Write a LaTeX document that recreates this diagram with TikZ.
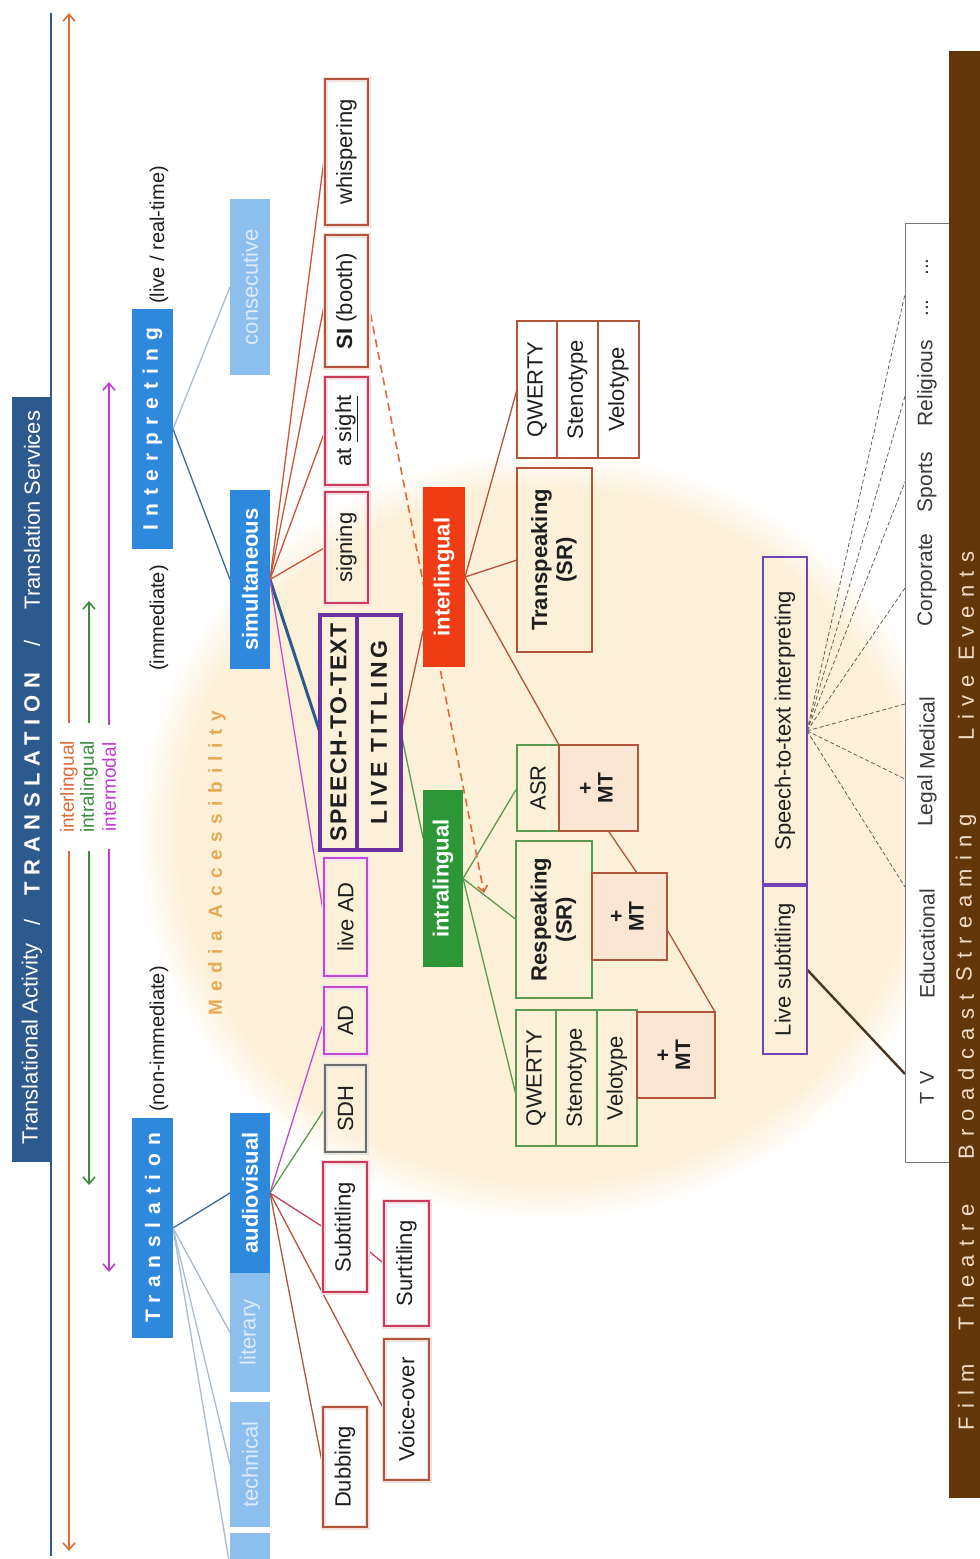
\documentclass[tikz,border=0pt]{standalone}
\usepackage{fontspec}
\setmainfont{Liberation Sans}
\usepackage{graphicx}
\usetikzlibrary{arrows.meta,calc}

% palette
\definecolor{bannerblue}{HTML}{2D5A8C}
\definecolor{midblue}{HTML}{2E88DC}
\definecolor{paleblue}{HTML}{8DBFEE}
\definecolor{palefont}{HTML}{DCEBFA}
\definecolor{linkdark}{HTML}{3F6A96}
\definecolor{linklight}{HTML}{A9BBCC}
\definecolor{arrorange}{HTML}{DD6A3A}
\definecolor{arrgreen}{HTML}{3C8C3C}
\definecolor{arrmagenta}{HTML}{C03CCC}
\definecolor{brownred}{HTML}{B0553C}
\definecolor{crimson}{HTML}{C83C5A}
\definecolor{violet}{HTML}{C04CCC}
\definecolor{sdhgray}{HTML}{6E6E66}
\definecolor{leafgreen}{HTML}{5A9A50}
\definecolor{ttpurple}{HTML}{6A32A0}
\definecolor{boxpurple}{HTML}{7442B4}
\definecolor{redbox}{HTML}{F03C14}
\definecolor{greenbox}{HTML}{2D9637}
\definecolor{mtfill}{HTML}{FBE6D4}
\definecolor{accbg}{HTML}{FDF0D8}
\definecolor{acctext}{HTML}{E6A955}
\definecolor{barbrown}{HTML}{64370A}
\definecolor{bartext}{HTML}{EEDCC6}
\definecolor{ink}{HTML}{1E1E1E}
\definecolor{venuegray}{HTML}{7A7A7A}
\definecolor{venuetext}{HTML}{3A3A3A}
\definecolor{fangray}{HTML}{6A5E52}
\definecolor{tvline}{HTML}{4A3422}
\definecolor{fanred}{HTML}{CC5538}

% soft-edged disc behind the media accessibility cluster
\pgfdeclareradialshading{accglow}{\pgfpoint{0bp}{0bp}}{color(0bp)=(accbg); color(22.5bp)=(accbg); color(25bp)=(white); color(50bp)=(white)}

\pgfdeclarelayer{bg}
\pgfdeclarelayer{links}
\pgfsetlayers{bg,links,main}

\newcommand{\fsz}[2]{\fontsize{#1}{#2}\selectfont}
% \bx[style]{x1}{y1}{x2}{y2}{name}{text}: box spanning the given corners, text turned upright
\newcommand{\bx}[7][]{\node[#1, minimum width={(#4-#2)*1pt}, minimum height={(#5-#3)*1pt}] (#6) at ({(#2+#4)/2},{(#3+#5)/2}) {\rotatebox{90}{#7}};}
% \tx[style]{name}{x}{y}{text}: turned label
\newcommand{\tx}[5][]{\node[lab,#1] (#2) at (#3,#4) {\rotatebox{90}{#5}};}
\newcommand{\two}[2]{\begin{tabular}{@{}c@{}}#1\\#2\end{tabular}}

\tikzset{
  every node/.style={inner sep=0pt, outer sep=0pt, text=ink},
  lab/.style={font=\fsz{22}{25}},
  solidbox/.style={fill=#1, font=\fsz{22}{25}\bfseries, text=white},
  palebox/.style={fill=paleblue, font=\fsz{22}{25}, text=palefont},
  edgebox/.style={draw=#1, line width=1.8pt, font=\fsz{22}{25}},
  halo/.style={preaction={draw=#1!18, line width=5pt}},
  mtbox/.style={edgebox=brownred, fill=mtfill, font=\fsz{21}{20}\bfseries},
  ln/.style={line width=1.3pt},
  scopearrow/.style={line width=1.6pt, -{Straight Barb[length=7pt,width=12pt]}},
  scopelabel/.style={font=\fsz{19}{21}, inner ysep=18pt},
  venue/.style={font=\fsz{21}{24}, text=venuetext},
  barword/.style={font=\fsz{22}{24}, text=bartext},
}

\begin{document}
\begin{tikzpicture}[x=1pt,y=-1pt]
\useasboundingbox (0,0) rectangle (980,1559);

\begin{pgfonlayer}{bg}
  \shade[shading=accglow] (547,835) ellipse [x radius=410pt, y radius=385pt];
  \coordinate (rulerTop) at (51,13);
  \coordinate (rulerBot) at (51,1556);
  \draw[bannerblue, line width=2pt] (rulerTop) -- (rulerBot);
\end{pgfonlayer}

% ---- title banner
\bx[fill=bannerblue]{12}{397}{52}{1162}{banner}{}
\tx[text=white]{bnA}{32}{1044}{Translational Activity}
\tx[text=white]{bnS1}{32}{922}{/}
\tx[text=white, font=\fsz{22}{25}\bfseries]{bnT}{32}{784}{\addfontfeature{LetterSpace=30}TRANSLATION}
\tx[text=white]{bnS2}{32}{643}{/}
\tx[text=white]{bnB}{32}{510}{Translation Services}

% ---- scope arrows
\tx[scopelabel, text=arrorange]{lblO}{69}{787}{interlingual}
\tx[scopelabel, text=arrgreen]{lblG}{89}{787}{intralingual}
\tx[scopelabel, text=arrmagenta]{lblM}{109}{787}{intermodal}
\coordinate (oT) at (69,13);   \coordinate (oB) at (69,1551);
\coordinate (gT) at (89,601);  \coordinate (gB) at (89,1185);
\coordinate (mT) at (109,382); \coordinate (mB) at (109,1272);
\draw[scopearrow, arrorange] (lblO) -- (oT);
\draw[scopearrow, arrorange] (lblO) -- (oB);
\draw[scopearrow, arrgreen] (lblG) -- (gT);
\draw[scopearrow, arrgreen] (lblG) -- (gB);
\draw[scopearrow, arrmagenta] (lblM) -- (mT);
\draw[scopearrow, arrmagenta] (lblM) -- (mB);

% ---- main branches
\tx[font=\fsz{20}{22}]{pLive}{159}{235}{(live / real-time)}
\tx[font=\fsz{20}{22}]{pImm}{159}{618}{(immediate)}
\tx[font=\fsz{20}{22}]{pNon}{159}{1039}{(non-immediate)}
\bx[solidbox=midblue, font=\fsz{21}{24}\bfseries]{132}{309}{173}{549}{interp}{\addfontfeature{LetterSpace=37}Interpreting}
\bx[solidbox=midblue, font=\fsz{21}{24}\bfseries]{132}{1118}{173}{1338}{transl}{\addfontfeature{LetterSpace=37}Translation}

\bx[palebox]{230}{199}{270}{375}{consec}{consecutive}
\bx[solidbox=midblue]{230}{490}{270}{669}{simul}{simultaneous}
\bx[solidbox=midblue]{230}{1113}{270}{1273}{av}{audiovisual}
\bx[palebox]{230}{1273}{270}{1392}{lit}{literary}
\bx[palebox]{230}{1402}{270}{1527}{tech}{technical}
\bx[palebox]{230}{1533}{270}{1600}{lastb}{}

% ---- modes
\bx[edgebox=brownred, halo=brownred]{325}{79}{368}{225}{whisp}{whispering}
\bx[edgebox=brownred, halo=brownred]{325}{235}{368}{367}{si}{\textbf{SI} (booth)}
\bx[edgebox=crimson, halo=crimson]{325}{377}{368}{485}{atsight}{at \underline{sight}}
\bx[edgebox=crimson, halo=crimson]{325}{492}{368}{603}{signing}{signing}
\bx[edgebox=ttpurple, line width=3.5pt, font=\fsz{23}{26}\bfseries]{320}{615}{357}{850}{stt}{\addfontfeature{LetterSpace=6}SPEECH-TO-TEXT}
\bx[edgebox=ttpurple, line width=3.5pt, font=\fsz{23}{26}\bfseries]{357}{615}{401}{850}{lt}{\addfontfeature{LetterSpace=16}LIVE TITLING}
\bx[edgebox=violet, halo=violet]{324}{858}{367}{976}{liveAD}{live AD}
\bx[edgebox=violet, halo=violet]{324}{987}{367}{1054}{AD}{AD}
\bx[edgebox=sdhgray, halo=sdhgray]{325}{1065}{366}{1152}{SDH}{SDH}
\bx[edgebox=crimson, halo=crimson]{323}{1162}{367}{1292}{subt}{Subtitling}
\bx[edgebox=crimson, halo=crimson, line width=2.2pt]{384}{1201}{429}{1326}{surt}{Surtitling}
\bx[edgebox=brownred, halo=brownred]{384}{1339}{429}{1480}{voice}{Voice-over}
\bx[edgebox=brownred, halo=brownred]{323}{1407}{367}{1527}{dub}{Dubbing}

% ---- live titling branches
\bx[solidbox=redbox]{423}{487}{465}{667}{inter}{interlingual}
\bx[solidbox=greenbox]{423}{790}{463}{967}{intra}{intralingual}

\bx[edgebox=brownred]{517}{321}{557}{458}{iq1}{QWERTY}
\bx[edgebox=brownred]{557}{321}{598}{458}{iq2}{Stenotype}
\bx[edgebox=brownred]{598}{321}{639}{458}{iq3}{Velotype}
\bx[edgebox=brownred, font=\fsz{22}{25}\bfseries]{517}{468}{592}{652}{transp}{\two{Transpeaking}{(SR)}}
\bx[edgebox=leafgreen]{517}{745}{559}{831}{asr}{ASR}
\bx[mtbox]{559}{745}{638}{831}{mt1}{\two{+}{MT}}
\bx[edgebox=leafgreen, font=\fsz{22}{25}\bfseries]{516}{841}{592}{998}{resp}{\two{Respeaking}{(SR)}}
\bx[mtbox]{592}{873}{667}{960}{mt2}{\two{+}{MT}}
\bx[edgebox=leafgreen]{516}{1010}{556}{1146}{q2a}{QWERTY}
\bx[edgebox=leafgreen]{556}{1010}{597}{1146}{q2b}{Stenotype}
\bx[edgebox=leafgreen]{597}{1010}{637}{1146}{q2c}{Velotype}
\bx[mtbox]{637}{1012}{715}{1098}{mt3}{\two{+}{MT}}

\tx[font=\fsz{19}{21}\bfseries, text=acctext]{accLabel}{217}{863}{\addfontfeature{LetterSpace=40}Media Accessibility}

% ---- services and settings
\bx[edgebox=boxpurple, line width=2.4pt]{763}{557}{807}{885}{sti}{Speech-to-text interpreting}
\bx[edgebox=boxpurple, line width=2.4pt]{763}{885}{807}{1054}{ls}{Live subtitling}
\draw[boxpurple, line width=3.5pt] (sti.south west) -- (sti.south east);

\bx[draw=venuegray, line width=0.8pt, fill=white]{905}{223}{949}{1162}{venues}{}
\bx[fill=barbrown]{949}{51}{990}{1498}{bar}{}
\tx[venue, font=\fsz{20}{22}]{tv}{927}{1088}{\addfontfeature{LetterSpace=40}TV}
\tx[venue]{edu}{927}{944}{Educational}
\tx[venue]{leg}{927}{801}{Legal}
\tx[venue]{med}{927}{733}{Medical}
\tx[venue]{cor}{927}{580}{Corporate}
\tx[venue]{spo}{927}{482}{Sports}
\tx[venue]{rel}{927}{383}{Religious}
\tx[venue]{dotsA}{927}{308}{...}
\tx[venue]{dotsB}{927}{267}{...}

\tx[barword]{bFilm}{966}{1397}{\addfontfeature{LetterSpace=38}Film}
\tx[barword]{bTheatre}{966}{1267}{\addfontfeature{LetterSpace=38}Theatre}
\tx[barword]{bBroad}{966}{1077}{\addfontfeature{LetterSpace=38}Broadcast}
\tx[barword]{bStream}{966}{898}{\addfontfeature{LetterSpace=38}Streaming}
\tx[barword]{bLive}{966}{646}{\addfontfeature{LetterSpace=38}Live Events}

% ---- connectors
\begin{pgfonlayer}{links}
  \draw[ln, linklight] (interp.east) -- (consec.west);
  \draw[ln, linkdark] (interp.east) -- (simul.west);
  \draw[ln, linkdark] (transl.east) -- (av.west);
  \draw[ln, linklight] (transl.east) -- (lit.west);
  \draw[ln, linklight] (transl.east) -- (tech.west);
  \draw[ln, linklight] (transl.east) -- (lastb.west);

  \foreach \t in {whisp, si, atsight, signing}
    \draw[ln, fanred] (simul.east) -- (\t.west);
  \draw[bannerblue, line width=3pt] (simul.east) -- (stt.west);
  \draw[ln, violet] (simul.east) -- (liveAD.west);

  \draw[ln, violet] (av.east) -- (AD.west);
  \draw[ln, leafgreen] (av.east) -- (SDH.west);
  \draw[ln, crimson] (av.east) -- (subt.west);
  \draw[ln, brownred] (av.east) -- (voice.west);
  \draw[ln, brownred] (av.east) -- (dub.west);
  \draw[ln, crimson] ($(subt.east)!0.35!(subt.south east)$) -- (surt.west);

  \draw[ln, brownred] (lt.east) -- ($(inter.south west)!0.2!(inter.north west)$);
  \draw[ln, leafgreen] (lt.east) -- ($(intra.north west)!0.27!(intra.south west)$);

  \draw[ln, brownred] (inter.east) -- (iq1.west);
  \draw[ln, brownred] (inter.east) -- (transp.west);
  \draw[ln, brownred] (inter.east) -- (asr.north east);
  \draw[ln, leafgreen] (intra.east) -- (asr.west);
  \draw[ln, leafgreen] (intra.east) -- (resp.west);
  \draw[ln, leafgreen] (intra.east) -- ($(q2a.west)!0.25!(q2a.south west)$);
  \draw[ln, brownred] ($(mt1.south)!0.25!(mt1.south east)$) -- ($(mt2.north)!0.2!(mt2.north east)$);
  \draw[ln, brownred] ($(mt2.east)!0.3!(mt2.south east)$) -- (mt3.north east);

  \coordinate (dashEnd) at (484,893);
  \draw[arrorange, line width=1.6pt, dash pattern=on 8pt off 5pt, -{Straight Barb[length=6pt,width=10pt]}] (si.east) -- (dashEnd);

  \coordinate (fanO) at ($(sti.north east)!0.53!(sti.south east)$);
  \coordinate (eEdu) at (905,887);
  \coordinate (eLeg) at (905,779);
  \coordinate (eMed) at (905,704);
  \coordinate (eCor) at (905,588);
  \coordinate (eSpo) at (905,482);
  \coordinate (eRel) at (905,396);
  \coordinate (eDot) at (905,294);
  \foreach \e in {eEdu, eLeg, eMed, eCor, eSpo, eRel, eDot}
    \draw[fangray, line width=0.8pt, dash pattern=on 4pt off 2.5pt] (fanO) -- (\e);
  \coordinate (tvEnd) at (905,1074);
  \draw[tvline, line width=2.4pt] (ls.east) -- (tvEnd);
\end{pgfonlayer}
\end{tikzpicture}
\end{document}
